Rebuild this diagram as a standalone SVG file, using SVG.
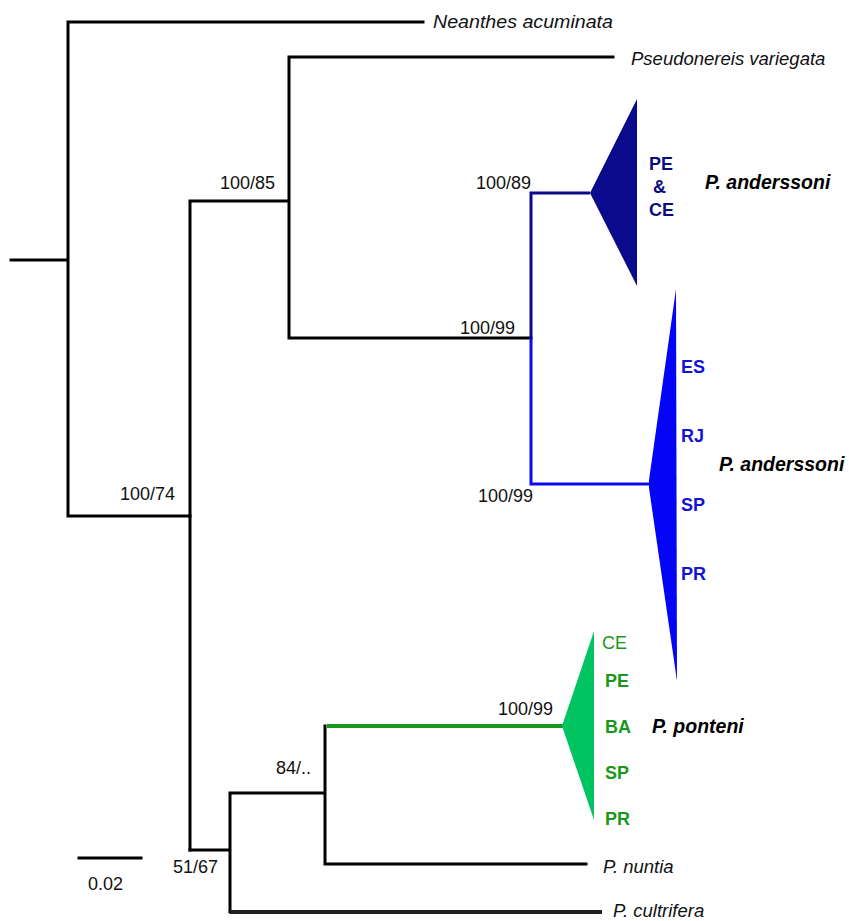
<svg xmlns="http://www.w3.org/2000/svg" width="849" height="921" viewBox="0 0 849 921">
  <style>
    .br { fill: none; stroke: #000; stroke-width: 3; stroke-linecap: square; }
    .navy { fill: none; stroke: #0a0a86; stroke-width: 3; }
    .blue { fill: none; stroke: #0a0af0; stroke-width: 3; }
    .grn { fill: none; stroke: #1a981a; stroke-width: 4; }
    .t { font-family: "Liberation Sans", Arial, sans-serif; }
    .sup { font-size: 18px; fill: #111; }
    .taxon { font-size: 18.5px; font-style: italic; fill: #111; }
    .clade { font-size: 19.5px; font-style: italic; font-weight: bold; fill: #000; }
    .loc { font-size: 18px; font-weight: bold; }
  </style>
  <rect width="849" height="921" fill="#fff"/>

  <!-- branches -->
  <g id="connectors">
    <path class="br" d="M11 260 H68 M68 22 V516 M68 22 H423 M68 516 H190"/>
    <path class="br" d="M190 201 V850 M190 201 H289 M289 57 V338 M289 57 H613 M289 338 H531"/>
    <path class="br" d="M190 850 H230 M230 793 V912 M230 793 H325 M325 726 V864 M325 864 H586"/>
    <path d="M230 912 H602" fill="none" stroke="#222" stroke-width="4"/>
    <path class="navy" d="M531 338 V193 H590"/>
    <path class="blue" d="M531 338 V484 H650"/>
    <path class="grn" d="M327 726 H563"/>
    <path class="br" d="M79 858 H141"/>
  </g>

  <!-- collapsed clades -->
  <g id="clade-pe-ce">
    <polygon points="590,193 637,99 637,286" fill="#0a0a8c"/>
    <text class="t loc" fill="#0b0b80" x="649" y="170">PE</text>
    <text class="t loc" fill="#0b0b80" x="653" y="193">&amp;</text>
    <text class="t loc" fill="#0b0b80" x="649" y="216">CE</text>
    <text class="t clade" x="705" y="189">P. anderssoni</text>
  </g>

  <g id="clade-south">
    <polygon points="676,289 649,480 649,488 677,681" fill="#0505f5"/>
    <text class="t loc" fill="#1212d8" x="681" y="373">ES</text>
    <text class="t loc" fill="#1212d8" x="681" y="442">RJ</text>
    <text class="t loc" fill="#1212d8" x="681" y="511">SP</text>
    <text class="t loc" fill="#1212d8" x="681" y="580">PR</text>
    <text class="t clade" x="719" y="471">P. anderssoni</text>
  </g>

  <g id="clade-ponteni">
    <polygon points="562,726 594,631 594,820" fill="#00c462"/>
    <text class="t" font-size="18px" fill="#1a981a" x="602" y="649">CE</text>
    <text class="t loc" fill="#1a981a" x="605" y="687">PE</text>
    <text class="t loc" fill="#1a981a" x="605" y="733">BA</text>
    <text class="t loc" fill="#1a981a" x="605" y="779">SP</text>
    <text class="t loc" fill="#1a981a" x="605" y="825">PR</text>
    <text class="t clade" x="652" y="733">P. ponteni</text>
  </g>

  <!-- terminal taxa -->
  <g id="taxon-neanthes"><text class="t taxon" x="433" y="28" textLength="180" lengthAdjust="spacingAndGlyphs">Neanthes acuminata</text></g>
  <g id="taxon-pseudonereis"><text class="t taxon" x="631" y="65">Pseudonereis variegata</text></g>
  <g id="taxon-nuntia"><text class="t taxon" x="603" y="873">P. nuntia</text></g>
  <g id="taxon-cultrifera"><text class="t taxon" x="613" y="917">P. cultrifera</text></g>

  <!-- support values -->
  <g id="support">
    <text class="t sup" x="220" y="189">100/85</text>
    <text class="t sup" x="120" y="500">100/74</text>
    <text class="t sup" x="476" y="189">100/89</text>
    <text class="t sup" x="460" y="334">100/99</text>
    <text class="t sup" x="478" y="502">100/99</text>
    <text class="t sup" x="498" y="715">100/99</text>
    <text class="t sup" x="276" y="774">84/..</text>
    <text class="t sup" x="173" y="873">51/67</text>
  </g>

  <!-- scale bar -->
  <g id="scale">
    <text class="t sup" x="88" y="890">0.02</text>
  </g>
</svg>
